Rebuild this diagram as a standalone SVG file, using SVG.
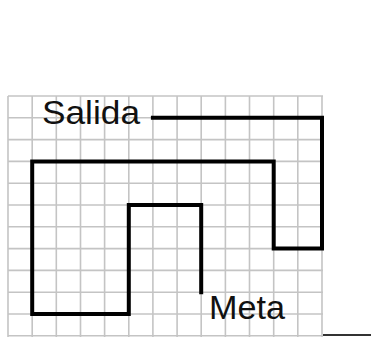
<svg xmlns="http://www.w3.org/2000/svg" width="371" height="337" viewBox="0 0 371 337">
  <style>
    .grid line { stroke: #c4c4c4; stroke-width: 1.6; }
    .path { fill: none; stroke: #000; stroke-width: 4; stroke-linejoin: miter; stroke-linecap: square; }
    .label { font-family: "Liberation Sans", Arial, sans-serif; fill: #111; }
  </style>
  <rect width="371" height="337" fill="#fff"/>
  <g id="grid" class="grid">
    <line x1="8" y1="96" x2="8" y2="337"/>
    <line x1="32.2" y1="96" x2="32.2" y2="337"/>
    <line x1="56.3" y1="96" x2="56.3" y2="337"/>
    <line x1="80.5" y1="96" x2="80.5" y2="337"/>
    <line x1="104.6" y1="96" x2="104.6" y2="337"/>
    <line x1="128.8" y1="96" x2="128.8" y2="337"/>
    <line x1="152.9" y1="96" x2="152.9" y2="337"/>
    <line x1="177.1" y1="96" x2="177.1" y2="337"/>
    <line x1="201.2" y1="96" x2="201.2" y2="337"/>
    <line x1="225.4" y1="96" x2="225.4" y2="337"/>
    <line x1="249.5" y1="96" x2="249.5" y2="337"/>
    <line x1="273.7" y1="96" x2="273.7" y2="337"/>
    <line x1="297.8" y1="96" x2="297.8" y2="337"/>
    <line x1="322" y1="96" x2="322" y2="337"/>
    <line x1="8" y1="96" x2="323" y2="96"/>
    <line x1="8" y1="117.8" x2="323" y2="117.8"/>
    <line x1="8" y1="139.6" x2="323" y2="139.6"/>
    <line x1="8" y1="161.4" x2="323" y2="161.4"/>
    <line x1="8" y1="183.2" x2="323" y2="183.2"/>
    <line x1="8" y1="205" x2="323" y2="205"/>
    <line x1="8" y1="226.8" x2="323" y2="226.8"/>
    <line x1="8" y1="248.6" x2="323" y2="248.6"/>
    <line x1="8" y1="270.4" x2="323" y2="270.4"/>
    <line x1="8" y1="292.2" x2="323" y2="292.2"/>
    <line x1="8" y1="314" x2="323" y2="314"/>
    <line x1="8" y1="335.8" x2="323" y2="335.8"/>
  </g>
  <g id="connectors">
    <polyline class="path" points="152.9,117.8 322,117.8 322,248.6 273.7,248.6 273.7,161.4 32.2,161.4 32.2,314 128.8,314 128.8,205 201.2,205 201.2,292.2"/>
    <line x1="323" y1="335" x2="371" y2="335" stroke="#333" stroke-width="2"/>
  </g>
  <g id="salida">
    <text class="label" x="42" y="124" font-size="34" textLength="98" lengthAdjust="spacingAndGlyphs">Salida</text>
  </g>
  <g id="meta">
    <text class="label" x="209" y="319" font-size="33" textLength="76" lengthAdjust="spacingAndGlyphs">Meta</text>
  </g>
</svg>
